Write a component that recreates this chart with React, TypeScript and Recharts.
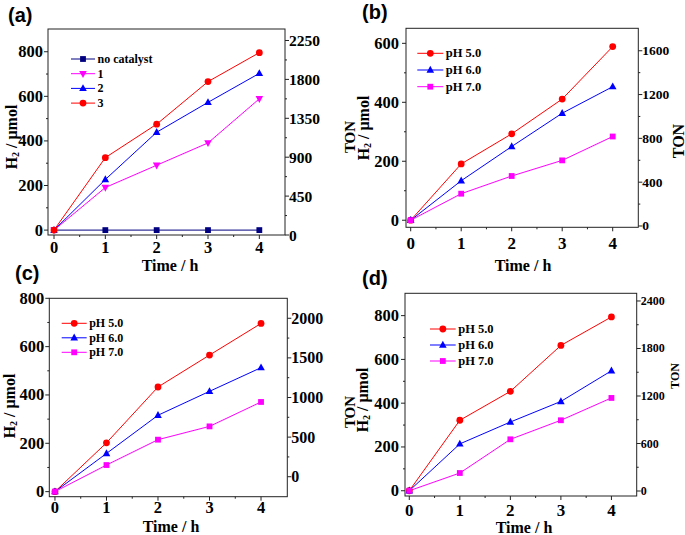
import { Line, LineChart, XAxis, YAxis, usePlotArea } from 'recharts'

// time axis (h)
const hours = [0, 1, 2, 3, 4]
const xTicks = [0, 0.5, 1, 1.5, 2, 2.5, 3, 3.5, 4]

// (a) H2 evolution with catalysts 1-3
const aNoCatalyst = [0, 0, 0, 0, 0]
const aCat1 = [0, 191, 291, 391, 589]
const aCat2 = [0, 227, 439, 573, 703]
const aCat3 = [0, 325, 475, 666, 796]
const aLeftTicks = [0, 100, 200, 300, 400, 500, 600, 700, 800]
const aRightTicks = [0, 225, 450, 675, 900, 1125, 1350, 1575, 1800, 2025, 2250]

// (b) pH series
const bPH5 = [0, 191, 293, 411, 589]
const bPH6 = [0, 134, 250, 363, 453]
const bPH7 = [0, 90, 150, 203, 284]
const bLeftTicks = [0, 100, 200, 300, 400, 500, 600]
const bRightTicks = [0, 200, 400, 600, 800, 1000, 1200, 1400, 1600]

// (c) pH series
const cPH5 = [0, 202, 433, 565, 696]
const cPH6 = [0, 158, 316, 415, 513]
const cPH7 = [0, 110, 215, 270, 371]
const cLeftTicks = [0, 100, 200, 300, 400, 500, 600, 700, 800]
const cRightTicks = [0, 250, 500, 750, 1000, 1250, 1500, 1750, 2000]

// (d) pH series
const dPH5 = [0, 322, 454, 664, 794]
const dPH6 = [0, 214, 314, 408, 548]
const dPH7 = [0, 81, 235, 322, 424]
const dLeftTicks = [0, 100, 200, 300, 400, 500, 600, 700, 800]
const dRightTicks = [0, 300, 600, 900, 1200, 1500, 1800, 2100, 2400]

const phNames = ['pH 5.0', 'pH 6.0', 'pH 7.0']
const catNames = ['no catalyst', '1', '2', '3']

const RED = '#ff0000'
const BLUE = '#0000ff'
const MAGENTA = '#ff00ff'
const NAVY = '#000080'
const AXIS = '#222'
const SERIF = '"Liberation Serif", "Times New Roman", serif'
const SANS = '"Liberation Sans", Arial, sans-serif'

type Shape = 'circle' | 'up' | 'down' | 'square'

type Series = { name: string; values: number[]; color: string; shape: Shape }

function Marker({ cx, cy, shape, color }: { cx: number; cy: number; shape: Shape; color: string }) {
  if (shape === 'circle') return <circle cx={cx} cy={cy} r={3.4} fill={color} />
  if (shape === 'square')
    return <rect x={cx - 2.9} y={cy - 2.9} width={5.8} height={5.8} fill={color} />
  if (shape === 'up')
    return (
      <polygon
        points={`${cx},${cy - 4.2} ${cx + 3.8},${cy + 2.7} ${cx - 3.8},${cy + 2.7}`}
        fill={color}
      />
    )
  return (
    <polygon
      points={`${cx},${cy + 4.2} ${cx + 3.8},${cy - 2.7} ${cx - 3.8},${cy - 2.7}`}
      fill={color}
    />
  )
}

const tickText = (size: number) => ({
  fontFamily: SERIF,
  fontWeight: 700,
  fontSize: size,
  fill: '#000',
})

function H2Label({ x, y, size }: { x: number; y: number; size: number }) {
  return (
    <text
      x={x}
      y={y}
      transform={`rotate(-90 ${x} ${y})`}
      textAnchor="middle"
      dominantBaseline="central"
      style={tickText(size)}
    >
      <tspan>H</tspan>
      <tspan fontSize={size * 0.62} dy={4}>
        2
      </tspan>
      <tspan dy={-4}> / μmol</tspan>
    </text>
  )
}

function VText({ x, y, size, children }: { x: number; y: number; size: number; children: string }) {
  return (
    <text
      x={x}
      y={y}
      transform={`rotate(-90 ${x} ${y})`}
      textAnchor="middle"
      dominantBaseline="central"
      style={tickText(size)}
    >
      {children}
    </text>
  )
}

function Frame() {
  const p = usePlotArea()
  if (!p) return null
  return <rect x={p.x} y={p.y} width={p.width} height={p.height} fill="none" stroke={AXIS} strokeWidth={1} />
}

type PanelDef = {
  tag: string
  box: { left: number; top: number; width: number; height: number }
  margin: { top: number; right: number; bottom: number; left: number }
  xDomain: [number, number]
  xFont: number
  xOffset: number
  yDomain: [number, number]
  yTicks: number[]
  yMajor: number
  yGap: number
  rDomain: [number, number]
  rTicks: number[]
  rMajor: number
  rFont: number
  series: Series[]
  legend: { x: number; y: number; gap: number; len: number; font: number }
  tagPos: { x: number; y: number }
  timePos: { x: number; y: number }
  h2Pos: { x: number; y: number }
  tonLeft?: { x: number; y: number; size: number }
  tonRight?: { x: number; y: number; size: number }
}

function Legend({ def }: { def: PanelDef }) {
  const { x, y, gap, len, font } = def.legend
  return (
    <g>
      {def.series.map((s, i) => {
        const yy = y + i * gap
        return (
          <g key={s.name}>
            <line x1={x} x2={x + len} y1={yy} y2={yy} stroke={s.color} strokeWidth={1} />
            <Marker cx={x + len / 2} cy={yy} shape={s.shape} color={s.color} />
            <text x={x + len + 2.5} y={yy} dominantBaseline="central" style={tickText(font)}>
              {s.name}
            </text>
          </g>
        )
      })}
    </g>
  )
}

function Panel({ def }: { def: PanelDef }) {
  const rows = hours.map((t, i) => {
    const row: Record<string, number> = { t }
    def.series.forEach((s, k) => {
      row[`s${k}`] = s.values[i]
    })
    return row
  })

  const xTick = (props: any) => {
    const { x, y, payload } = props
    const v = Number(payload.value)
    const major = Number.isInteger(v)
    return (
      <g>
        <line x1={x} x2={x} y1={y} y2={y + (major ? 4 : 2)} stroke={AXIS} />
        {major ? (
          <text x={x} y={y + def.xOffset} textAnchor="middle" style={tickText(def.xFont)}>
            {v}
          </text>
        ) : null}
      </g>
    )
  }

  const leftTick = (props: any) => {
    const { x, y, payload } = props
    const v = Number(payload.value)
    const major = v % def.yMajor === 0
    return (
      <g>
        <line x1={x} x2={x - (major ? 4 : 2)} y1={y} y2={y} stroke={AXIS} />
        {major ? (
          <text x={x - def.yGap} y={y} textAnchor="end" dominantBaseline="central" style={tickText(16.5)}>
            {v}
          </text>
        ) : null}
      </g>
    )
  }

  const rightTick = (props: any) => {
    const { x, y, payload } = props
    const v = Number(payload.value)
    const major = v % def.rMajor === 0
    return (
      <g>
        <line x1={x} x2={x + (major ? 4 : 2)} y1={y} y2={y} stroke={AXIS} />
        {major ? (
          <text x={x + 4} y={y} textAnchor="start" dominantBaseline="central" style={tickText(def.rFont)}>
            {v}
          </text>
        ) : null}
      </g>
    )
  }

  return (
    <div style={{ position: 'absolute', ...def.box }}>
      <LineChart width={def.box.width} height={def.box.height} data={rows} margin={def.margin}>
        <XAxis
          type="number"
          dataKey="t"
          domain={def.xDomain}
          ticks={xTicks}
          interval={0}
          allowDataOverflow
          height={30}
          tickSize={0}
          tickMargin={0}
          axisLine={false}
          tickLine={false}
          tick={xTick}
        />
        <YAxis
          yAxisId="left"
          type="number"
          domain={def.yDomain}
          ticks={def.yTicks}
          interval={0}
          allowDataOverflow
          width={40}
          tickSize={0}
          tickMargin={0}
          axisLine={false}
          tickLine={false}
          tick={leftTick}
        />
        <YAxis
          yAxisId="right"
          orientation="right"
          type="number"
          domain={def.rDomain}
          ticks={def.rTicks}
          interval={0}
          allowDataOverflow
          width={45}
          tickSize={0}
          tickMargin={0}
          axisLine={false}
          tickLine={false}
          tick={rightTick}
        />
        {def.series.map((s, k) => (
          <Line
            key={s.name}
            yAxisId="left"
            dataKey={`s${k}`}
            name={s.name}
            stroke={s.color}
            strokeWidth={1}
            isAnimationActive={false}
            activeDot={false}
            dot={(p: any) =>
              p.cx == null || p.cy == null ? null : (
                <Marker key={`d-${k}-${p.index}`} cx={p.cx} cy={p.cy} shape={s.shape} color={s.color} />
              )
            }
          />
        ))}
        <Frame />
        <Legend def={def} />
        <text x={def.tagPos.x} y={def.tagPos.y} style={{ fontFamily: SANS, fontWeight: 700, fontSize: 20, fill: '#000' }}>
          {def.tag}
        </text>
        <text x={def.timePos.x} y={def.timePos.y} textAnchor="middle" style={tickText(16)}>
          Time / h
        </text>
        <H2Label x={def.h2Pos.x} y={def.h2Pos.y} size={16} />
        {def.tonLeft ? (
          <VText x={def.tonLeft.x} y={def.tonLeft.y} size={def.tonLeft.size}>
            TON
          </VText>
        ) : null}
        {def.tonRight ? (
          <VText x={def.tonRight.x} y={def.tonRight.y} size={def.tonRight.size}>
            TON
          </VText>
        ) : null}
      </LineChart>
    </div>
  )
}

const panels: PanelDef[] = [
  {
    tag: '(a)',
    box: { left: 0, top: 0, width: 342, height: 275 },
    margin: { top: 29, right: 12, bottom: 10, left: 8 },
    xDomain: [-0.117, 4.5],
    xFont: 16.5,
    xOffset: 18,
    yDomain: [-22, 902],
    yTicks: aLeftTicks,
    yMajor: 200,
    yGap: 5,
    rDomain: [0, 2383],
    rTicks: aRightTicks,
    rMajor: 450,
    rFont: 15.5,
    series: [
      { name: catNames[0], values: aNoCatalyst, color: NAVY, shape: 'square' },
      { name: catNames[1], values: aCat1, color: MAGENTA, shape: 'down' },
      { name: catNames[2], values: aCat2, color: BLUE, shape: 'up' },
      { name: catNames[3], values: aCat3, color: RED, shape: 'circle' },
    ],
    legend: { x: 71, y: 59, gap: 14.7, len: 24, font: 12 },
    tagPos: { x: 8, y: 22 },
    timePos: { x: 170, y: 271 },
    h2Pos: { x: 11, y: 137 },
  },
  {
    tag: '(b)',
    box: { left: 342, top: 0, width: 343, height: 275 },
    margin: { top: 28.3, right: 1.7, bottom: 17.7, left: 24 },
    xDomain: [-0.093, 4.507],
    xFont: 17,
    xOffset: 22,
    yDomain: [-24, 651],
    yTicks: bLeftTicks,
    yMajor: 200,
    yGap: 7,
    rDomain: [-12, 1805],
    rTicks: bRightTicks,
    rMajor: 400,
    rFont: 13.5,
    series: [
      { name: phNames[0], values: bPH5, color: RED, shape: 'circle' },
      { name: phNames[1], values: bPH6, color: BLUE, shape: 'up' },
      { name: phNames[2], values: bPH7, color: MAGENTA, shape: 'square' },
    ],
    legend: { x: 75.3, y: 53.3, gap: 16.7, len: 26, font: 12.5 },
    tagPos: { x: 20, y: 19 },
    timePos: { x: 181, y: 271 },
    h2Pos: { x: 20.5, y: 128 },
    tonLeft: { x: 8, y: 137, size: 15 },
    tonRight: { x: 336, y: 141, size: 16 },
  },
  {
    tag: '(c)',
    box: { left: 0, top: 262, width: 342, height: 273 },
    margin: { top: 36.3, right: 9.7, bottom: 8.3, left: 9.3 },
    xDomain: [-0.11, 4.51],
    xFont: 16.5,
    xOffset: 16,
    yDomain: [-21, 800],
    yTicks: cLeftTicks,
    yMajor: 200,
    yGap: 5,
    rDomain: [-252, 2252],
    rTicks: cRightTicks,
    rMajor: 500,
    rFont: 16,
    series: [
      { name: phNames[0], values: cPH5, color: RED, shape: 'circle' },
      { name: phNames[1], values: cPH6, color: BLUE, shape: 'up' },
      { name: phNames[2], values: cPH7, color: MAGENTA, shape: 'square' },
    ],
    legend: { x: 61.7, y: 61.3, gap: 14.5, len: 25, font: 12 },
    tagPos: { x: 15, y: 18 },
    timePos: { x: 171, y: 270 },
    h2Pos: { x: 9, y: 144 },
  },
  {
    tag: '(d)',
    box: { left: 342, top: 262, width: 343, height: 273 },
    margin: { top: 31.3, right: 3.3, bottom: 9, left: 23 },
    xDomain: [-0.085, 4.5],
    xFont: 17,
    xOffset: 20,
    yDomain: [-24, 902],
    yTicks: dLeftTicks,
    yMajor: 200,
    yGap: 6,
    rDomain: [-63, 2497],
    rTicks: dRightTicks,
    rMajor: 600,
    rFont: 12,
    series: [
      { name: phNames[0], values: dPH5, color: RED, shape: 'circle' },
      { name: phNames[1], values: dPH6, color: BLUE, shape: 'up' },
      { name: phNames[2], values: dPH7, color: MAGENTA, shape: 'square' },
    ],
    legend: { x: 88, y: 67, gap: 16, len: 25.7, font: 12.5 },
    tagPos: { x: 20, y: 23 },
    timePos: { x: 182, y: 271 },
    h2Pos: { x: 20, y: 138 },
    tonLeft: { x: 8, y: 150, size: 15 },
    tonRight: { x: 333, y: 114, size: 12 },
  },
]

export default function App() {
  return (
    <div style={{ position: 'absolute', left: 0, top: 0, width: 685, height: 535, background: '#fff' }}>
      {panels.map((p) => (
        <Panel key={p.tag} def={p} />
      ))}
    </div>
  )
}
